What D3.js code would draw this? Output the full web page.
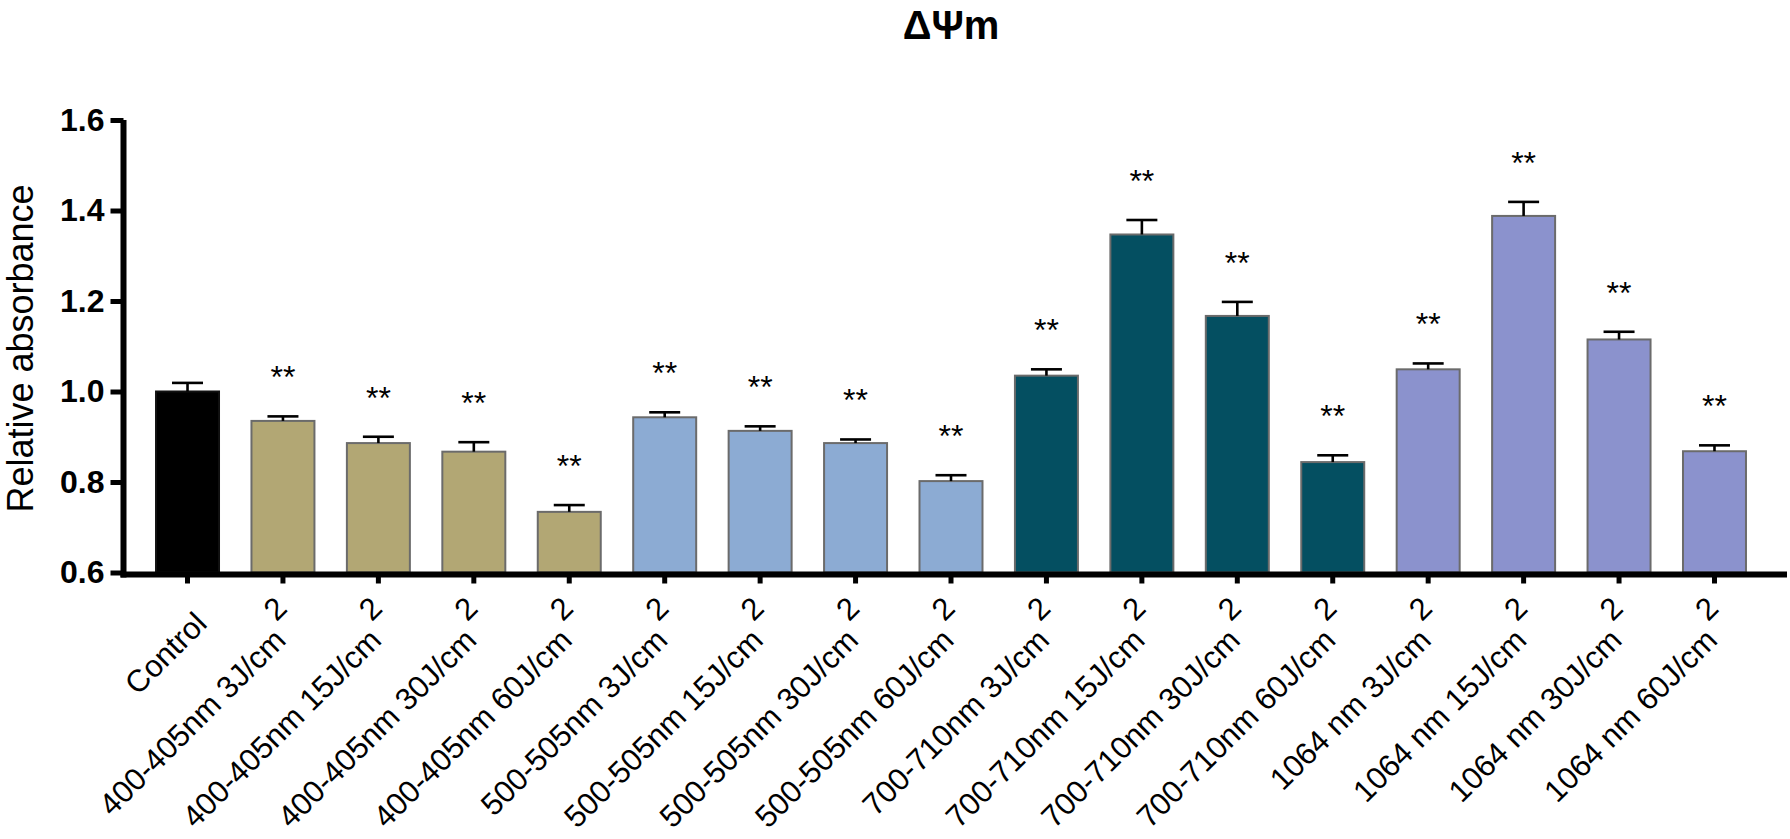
<!DOCTYPE html>
<html>
<head>
<meta charset="utf-8">
<script src="https://cdn.jsdelivr.net/npm/d3@7"></script>
<style>
  body { margin: 0; background: #fff; }
  text { font-family: Arial, "Liberation Sans", sans-serif; }
</style>
</head>
<body>
<svg id="chart"></svg>
<script>
// categories (main label text + superscript part)
const labelMain = [
    "Control",
    "400-405nm 3J/cm", "400-405nm 15J/cm", "400-405nm 30J/cm", "400-405nm 60J/cm",
    "500-505nm 3J/cm", "500-505nm 15J/cm", "500-505nm 30J/cm", "500-505nm 60J/cm",
    "700-710nm 3J/cm", "700-710nm 15J/cm", "700-710nm 30J/cm", "700-710nm 60J/cm",
    "1064 nm 3J/cm", "1064 nm 15J/cm", "1064 nm 30J/cm", "1064 nm 60J/cm"
];
const labelSup = ["", "2", "2", "2", "2", "2", "2", "2", "2", "2", "2", "2", "2", "2", "2", "2", "2"];
const groups = ["control",
    "400", "400", "400", "400",
    "500", "500", "500", "500",
    "700", "700", "700", "700",
    "1064", "1064", "1064", "1064"];

// values
const means = [1.000, 0.935, 0.886, 0.867, 0.734, 0.943, 0.913, 0.886, 0.802,
               1.035, 1.347, 1.167, 0.844, 1.049, 1.388, 1.115, 0.868];
const errors = [0.019, 0.010, 0.014, 0.021, 0.015, 0.011, 0.010, 0.008, 0.013,
                0.014, 0.032, 0.031, 0.015, 0.013, 0.031, 0.017, 0.013];
const stars = ["", "**", "**", "**", "**", "**", "**", "**", "**",
               "**", "**", "**", "**", "**", "**", "**", "**"];

const yTicks = [0.6, 0.8, 1.0, 1.2, 1.4, 1.6];

const groupColor = {
    control: "#000000",
    "400": "#b2a774",
    "500": "#8cabd3",
    "700": "#044f61",
    "1064": "#8b92cd"
};

const width = 1790;
const height = 839;
const axisX = 123.5;   // y axis line position
const axisY = 574.5;   // x axis line position

const svg = d3.select("#chart").attr("width", width).attr("height", height);

const data = labelMain.map((d, i) => ({
    main: d, sup: labelSup[i], group: groups[i], mean: means[i], err: errors[i], star: stars[i]
}));

const x = d3.scaleBand()
    .domain(d3.range(data.length))
    .range([139.8, 1762.2])
    .paddingInner(0.34)
    .paddingOuter(0.17);

const y = d3.scaleLinear()
    .domain([0.6, 1.6])
    .range([572.5, 120]);

const cx = i => x(i) + x.bandwidth() / 2;

// title
svg.append("text")
    .attr("x", 951)
    .attr("y", 39)
    .attr("text-anchor", "middle")
    .style("font-size", "40px")
    .style("font-weight", "bold")
    .text("ΔΨm");

// bars
svg.append("g")
    .selectAll("rect")
    .data(data)
    .enter()
    .append("rect")
    .attr("x", (d, i) => x(i))
    .attr("y", d => y(d.mean))
    .attr("width", x.bandwidth())
    .attr("height", d => y(0.6) - y(d.mean))
    .style("fill", d => groupColor[d.group])
    .style("stroke", d => d.group === "control" ? "#111" : "#6b6b6b")
    .style("stroke-width", 2);

// error bars (upper only)
const capHalf = 15.5;
const err = svg.append("g").style("stroke", "#000").style("stroke-width", 2.6);
err.selectAll(".stem")
    .data(data)
    .enter()
    .append("line")
    .attr("x1", (d, i) => cx(i))
    .attr("x2", (d, i) => cx(i))
    .attr("y1", d => y(d.mean))
    .attr("y2", d => y(d.mean + d.err));
err.selectAll(".cap")
    .data(data)
    .enter()
    .append("line")
    .attr("x1", (d, i) => cx(i) - capHalf)
    .attr("x2", (d, i) => cx(i) + capHalf)
    .attr("y1", d => y(d.mean + d.err))
    .attr("y2", d => y(d.mean + d.err));

// significance stars
svg.append("g")
    .selectAll("text")
    .data(data)
    .enter()
    .append("text")
    .attr("x", (d, i) => cx(i))
    .attr("y", d => y(d.mean + d.err) - 28)
    .attr("text-anchor", "middle")
    .style("font-size", "32px")
    .text(d => d.star);

// y axis
const yAxis = svg.append("g")
    .attr("transform", `translate(${axisX},0)`)
    .call(d3.axisLeft(y).tickValues(yTicks).tickFormat(d3.format(".1f")).tickSize(13).tickSizeOuter(0).tickPadding(6));
yAxis.select(".domain").attr("d", `M0,${y(1.6)}V${axisY + 3}`).style("stroke", "#000").style("stroke-width", 6);
yAxis.selectAll(".tick line").style("stroke", "#000").style("stroke-width", 5);
yAxis.selectAll(".tick text")
    .style("font-size", "32px")
    .style("font-weight", "bold")
    .style("font-family", "Arial, 'Liberation Sans', sans-serif")
    .attr("fill", "#000");

// x axis line and ticks
svg.append("line")
    .attr("x1", axisX - 3)
    .attr("x2", 1787)
    .attr("y1", axisY)
    .attr("y2", axisY)
    .style("stroke", "#000")
    .style("stroke-width", 6);

svg.append("g")
    .selectAll("line")
    .data(data)
    .enter()
    .append("line")
    .attr("x1", (d, i) => cx(i))
    .attr("x2", (d, i) => cx(i))
    .attr("y1", axisY)
    .attr("y2", axisY + 9)
    .style("stroke", "#000")
    .style("stroke-width", 5);

// rotated category labels
const labels = svg.append("g")
    .selectAll("text")
    .data(data)
    .enter()
    .append("text")
    .attr("transform", (d, i) => `translate(${cx(i) + 21},${axisY + 51}) rotate(-45)`)
    .attr("text-anchor", "end")
    .style("font-size", "31px");
labels.append("tspan").text(d => d.main);
labels.filter(d => d.sup !== "")
    .append("tspan")
    .attr("dx", 6)
    .attr("dy", "-0.7em")
    .text(d => d.sup);

// y axis title
svg.append("text")
    .attr("transform", `translate(33,348.5) rotate(-90)`)
    .attr("text-anchor", "middle")
    .style("font-size", "36px")
    .text("Relative absorbance");
</script>
</body>
</html>
